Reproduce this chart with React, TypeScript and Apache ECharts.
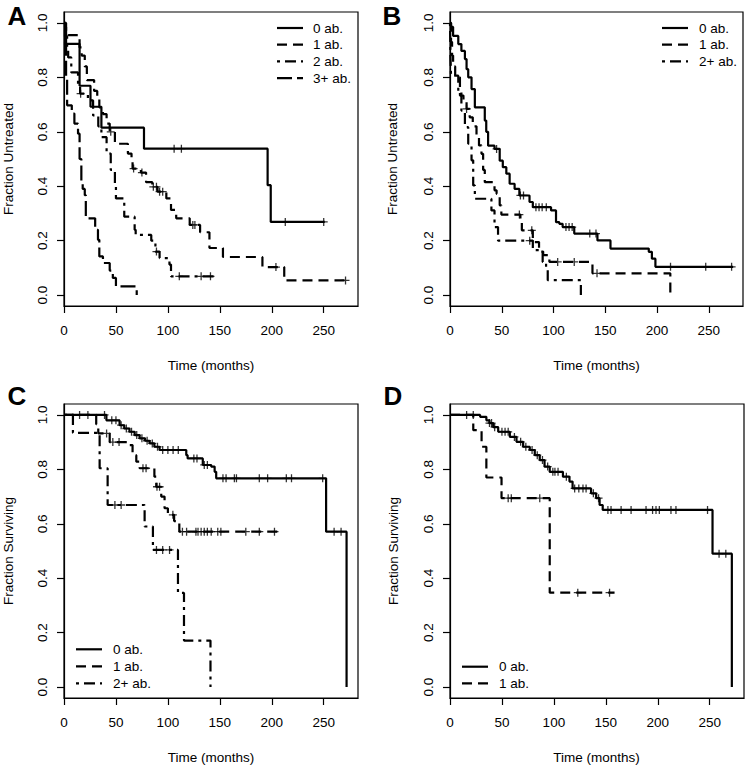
import React, { useEffect, useRef } from 'react';
import * as echarts from 'echarts';

// ---------- tick labels ----------
const xTicks = [0, 50, 100, 150, 200, 250];
const yTicks = [0, 0.2, 0.4, 0.6, 0.8, 1.0];
const xMax = 283;

// ---------- Panel A: Fraction Untreated ----------
const a0ab = [[0, 1], [2, 0.923], [15, 0.769], [25.5, 0.692], [36, 0.615], [77, 0.538], [196, 0.404], [199, 0.269], [251, 0.269]];
const a0abCens = [106, 113, 213, 250];
const a1ab = [[0, 1], [1, 0.985], [2, 0.97], [4, 0.955], [15, 0.91], [17, 0.88], [20, 0.84], [22, 0.79], [29, 0.75], [32, 0.725], [34, 0.69], [37.5, 0.665], [41, 0.63], [44, 0.6], [49, 0.556], [61.5, 0.52], [65, 0.49], [66, 0.465], [74, 0.45], [79, 0.415], [85, 0.398], [90, 0.38], [98.5, 0.355], [103, 0.313], [108, 0.282], [121, 0.258], [131, 0.231], [140, 0.173], [153, 0.14], [191, 0.103], [212, 0.054], [273, 0.054]];
const a1abCens = [45, 67, 75, 86, 89, 92, 95, 124, 126, 204, 271];
const a2ab = [[0, 1], [1, 0.95], [3, 0.9], [4, 0.873], [7, 0.818], [13.5, 0.77], [15.5, 0.74], [23, 0.715], [28, 0.66], [33, 0.62], [36, 0.58], [41, 0.52], [45, 0.46], [49, 0.4], [50, 0.355], [58, 0.288], [68, 0.24], [69, 0.221], [84, 0.2], [88, 0.16], [92, 0.136], [101.5, 0.112], [103, 0.069], [145, 0.069]];
const a2abCens = [16, 89, 111, 132, 141];
const a3ab = [[0, 1], [1, 0.92], [2, 0.8], [3, 0.697], [7.5, 0.667], [10, 0.63], [13.5, 0.593], [15, 0.5], [16.7, 0.42], [18, 0.39], [20, 0.367], [21, 0.282], [30, 0.24], [32.7, 0.203], [34, 0.142], [37.5, 0.118], [44, 0.09], [47, 0.063], [50, 0.032], [70, 0]];
const a3abCens: number[] = [];

// ---------- Panel B: Fraction Untreated ----------
const b0ab = [[0, 1], [1, 0.985], [3, 0.952], [8, 0.922], [11, 0.897], [14.4, 0.867], [16, 0.83], [17.6, 0.8], [20.8, 0.757], [24, 0.69], [33.6, 0.641], [35, 0.6], [36.8, 0.549], [43, 0.537], [48, 0.494], [51, 0.47], [54.4, 0.446], [57.6, 0.409], [62.4, 0.39], [67, 0.366], [76.8, 0.342], [80, 0.323], [97.6, 0.311], [102.4, 0.268], [105.6, 0.262], [108.8, 0.25], [120, 0.226], [142.4, 0.201], [155, 0.171], [192, 0.159], [195, 0.134], [198.4, 0.104], [273.5, 0.104]];
const b0abCens = [45, 68, 71, 83, 86, 89, 93, 112, 115, 118, 135, 141, 213, 247, 272];
const b1ab = [[0, 1], [1, 0.93], [2, 0.88], [3, 0.84], [5, 0.8], [9.6, 0.733], [13, 0.71], [16, 0.684], [19, 0.653], [22, 0.62], [25.6, 0.586], [28, 0.55], [30.4, 0.519], [32, 0.46], [33.6, 0.415], [43, 0.385], [45, 0.372], [48, 0.33], [49.6, 0.296], [68, 0.268], [69.4, 0.238], [80, 0.195], [86, 0.16], [90, 0.147], [96, 0.122], [137.6, 0.08], [212.8, 0]];
const b1abCens = [16, 67, 79, 104, 120, 142];
const b2ab = [[0, 1], [0.5, 0.87], [1, 0.806], [8, 0.745], [11, 0.678], [14.4, 0.617], [17.6, 0.556], [20.8, 0.495], [22.4, 0.403], [24, 0.354], [40, 0.311], [43, 0.25], [46.4, 0.2], [80, 0.165], [89.5, 0.122], [92.8, 0.092], [94.4, 0.055], [126.4, 0]];
const b2abCens = [77];

// ---------- Panel C: Fraction Surviving ----------
const c0ab = [[0, 1], [40.8, 0.98], [53.5, 0.962], [58, 0.95], [63, 0.938], [68, 0.926], [72.8, 0.914], [78, 0.905], [82.4, 0.895], [87, 0.883], [92, 0.871], [117.7, 0.852], [119, 0.84], [133.6, 0.816], [141.7, 0.81], [145, 0.791], [146.5, 0.767], [252.3, 0.571], [272, 0]];
const c0abCens = [15, 23, 39, 46, 50, 55, 60, 65, 70, 75, 80, 85, 90, 95, 100, 105, 110, 125, 128, 135, 138, 153, 156, 164, 166, 188, 196, 214, 219, 249, 260, 266.7];
const c1ab = [[0, 1], [31, 0.966], [33, 0.932], [44, 0.9], [61.5, 0.889], [66, 0.852], [69.6, 0.828], [72.8, 0.804], [87, 0.773], [88.8, 0.736], [93.6, 0.7], [96.8, 0.657], [100, 0.633], [106, 0.61], [111, 0.571], [206.7, 0.571]];
const c1abCens = [41, 47, 53, 76, 79, 89.5, 92, 104.8, 114, 118, 127, 129, 132, 135, 138, 141.7, 148, 151, 175, 188, 202.6];
const c2ab = [[0, 1], [8.6, 0.934], [34.3, 0.804], [42, 0.669], [77.6, 0.59], [85.6, 0.504], [109.7, 0.346], [115.5, 0.171], [141, 0]];
const c2abCens = [49, 55, 89, 95, 101.6];

// ---------- Panel D: Fraction Surviving ----------
const d0ab = [[0, 1], [29, 0.993], [35, 0.98], [38, 0.97], [41.6, 0.955], [46.4, 0.938], [57.6, 0.919], [64, 0.901], [70.4, 0.883], [76.8, 0.871], [81.6, 0.852], [86.4, 0.834], [91, 0.81], [96, 0.791], [108.7, 0.773], [115, 0.755], [118, 0.73], [135.8, 0.712], [140.7, 0.694], [144, 0.669], [147, 0.651], [252.7, 0.49], [271.3, 0]];
const d0abCens = [16, 22.4, 38, 40, 43, 50, 53, 56, 62, 68, 73, 79, 84, 89, 94, 99, 101, 104, 112, 120, 124, 128, 131, 138, 143, 152, 155, 164.7, 174.3, 188.7, 195, 198.3, 201.5, 212.7, 217.5, 247.9, 259, 265.5];
const d1ab = [[0, 1], [22.4, 0.944], [30.4, 0.883], [35, 0.77], [49.6, 0.694], [96, 0.347], [158.4, 0.347]];
const d1abCens = [56, 59, 86.4, 123, 153.6];

// ---------- styles / layout ----------
const FONT = 'Liberation Sans, Arial, Helvetica, sans-serif';
const FS = 13.5;
const DASH: Record<string, any> = {
  solid: 'solid',
  dashed: [10, 6],
  dotdash: [3, 5, 11, 5],
  longdash: [15, 5],
};
const LW = 2.2;

type Curve = { name: string; pts: number[][]; cens: number[]; dash: string };
type Panel = {
  letter: string;
  yTitle: string;
  curves: Curve[];
  grid: { left: number; top: number; width: number; height: number };
  letterPos: [number, number];
  yTitlePos: [number, number];
  xTitlePos: [number, number];
  legend: { x1: number; x2: number; tx: number; y0: number; dy: number };
};

const panels: Panel[] = [
  {
    letter: 'A',
    yTitle: 'Fraction Untreated',
    curves: [
      { name: '0 ab.', pts: a0ab, cens: a0abCens, dash: 'solid' },
      { name: '1 ab.', pts: a1ab, cens: a1abCens, dash: 'dashed' },
      { name: '2 ab.', pts: a2ab, cens: a2abCens, dash: 'dotdash' },
      { name: '3+ ab.', pts: a3ab, cens: a3abCens, dash: 'longdash' },
    ],
    grid: { left: 64, top: 12, width: 294, height: 294 },
    letterPos: [17, 16],
    yTitlePos: [8, 159],
    xTitlePos: [211, 365],
    legend: { x1: 277, x2: 303, tx: 313, y0: 28, dy: 16.7 },
  },
  {
    letter: 'B',
    yTitle: 'Fraction Untreated',
    curves: [
      { name: '0 ab.', pts: b0ab, cens: b0abCens, dash: 'solid' },
      { name: '1 ab.', pts: b1ab, cens: b1abCens, dash: 'dashed' },
      { name: '2+ ab.', pts: b2ab, cens: b2abCens, dash: 'dotdash' },
    ],
    grid: { left: 450, top: 12, width: 293, height: 294 },
    letterPos: [392, 16],
    yTitlePos: [392.5, 159],
    xTitlePos: [596.5, 365],
    legend: { x1: 662, x2: 688, tx: 699, y0: 28, dy: 16.7 },
  },
  {
    letter: 'C',
    yTitle: 'Fraction Surviving',
    curves: [
      { name: '0 ab.', pts: c0ab, cens: c0abCens, dash: 'solid' },
      { name: '1 ab.', pts: c1ab, cens: c1abCens, dash: 'dashed' },
      { name: '2+ ab.', pts: c2ab, cens: c2abCens, dash: 'dotdash' },
    ],
    grid: { left: 64, top: 404, width: 294, height: 294 },
    letterPos: [17, 396],
    yTitlePos: [8, 551],
    xTitlePos: [211, 757],
    legend: { x1: 76, x2: 102, tx: 113, y0: 649.3, dy: 17 },
  },
  {
    letter: 'D',
    yTitle: 'Fraction Surviving',
    curves: [
      { name: '0 ab.', pts: d0ab, cens: d0abCens, dash: 'solid' },
      { name: '1 ab.', pts: d1ab, cens: d1abCens, dash: 'dashed' },
    ],
    grid: { left: 450, top: 404, width: 294, height: 294 },
    letterPos: [393, 396],
    yTitlePos: [393, 551],
    xTitlePos: [596.5, 757],
    legend: { x1: 462, x2: 488, tx: 499, y0: 666.7, dy: 16.7 },
  },
];

const PLUS = 'path://M-0.16,-1H0.16V-0.16H1V0.16H0.16V1H-0.16V0.16H-1V-0.16H-0.16Z';

function levelAt(pts: number[][], t: number): number {
  let v = pts[0][1];
  for (const p of pts) {
    if (p[0] <= t) v = p[1];
    else break;
  }
  return v;
}

function buildOption() {
  const grid: any[] = [];
  const xAxis: any[] = [];
  const yAxis: any[] = [];
  const series: any[] = [];
  const graphic: any[] = [];

  panels.forEach((p, i) => {
    grid.push({
      ...p.grid,
      show: true,
      borderColor: '#000',
      borderWidth: 1.2,
      backgroundColor: 'transparent',
      containLabel: false,
      outerBoundsMode: 'none',
    });
    xAxis.push({
      type: 'value',
      gridIndex: i,
      min: 0,
      max: xMax,
      axisLine: { show: true, onZero: false, lineStyle: { color: '#000', width: 1.2 } },
      axisTick: { show: true, length: 7, lineStyle: { color: '#000', width: 1.2 }, customValues: xTicks },
      axisLabel: {
        customValues: xTicks,
        margin: 17,
        fontSize: FS,
        color: '#000',
        fontFamily: FONT,
      },
      splitLine: { show: false },
    });
    yAxis.push({
      type: 'value',
      gridIndex: i,
      min: -0.04,
      max: 1.04,
      axisLine: { show: true, onZero: false, lineStyle: { color: '#000', width: 1.2 } },
      axisTick: { show: true, length: 7, lineStyle: { color: '#000', width: 1.2 }, customValues: yTicks },
      axisLabel: {
        customValues: yTicks,
        rotate: 90,
        margin: 15,
        fontSize: FS,
        color: '#000',
        fontFamily: FONT,
        formatter: (v: number) => v.toFixed(1),
      },
      splitLine: { show: false },
    });

    p.curves.forEach((c) => {
      series.push({
        type: 'line',
        name: p.letter + ' ' + c.name,
        xAxisIndex: i,
        yAxisIndex: i,
        step: 'end',
        data: c.pts,
        showSymbol: false,
        symbol: 'none',
        lineStyle: { color: '#000', width: LW, type: DASH[c.dash], cap: 'butt' },
        z: 3,
      });
      if (c.cens.length) {
        series.push({
          type: 'scatter',
          name: p.letter + ' ' + c.name + ' censored',
          xAxisIndex: i,
          yAxisIndex: i,
          data: c.cens.map((t) => [t, levelAt(c.pts, t)]),
          symbol: PLUS,
          symbolSize: 8,
          itemStyle: { color: '#000' },
          z: 4,
        });
      }
    });

    graphic.push({
      type: 'text',
      x: p.letterPos[0],
      y: p.letterPos[1],
      style: {
        text: p.letter,
        fill: '#000',
        font: `bold 26px ${FONT}`,
        align: 'center',
        verticalAlign: 'middle',
      },
    });
    graphic.push({
      type: 'text',
      x: p.yTitlePos[0],
      y: p.yTitlePos[1],
      rotation: Math.PI / 2,
      style: {
        text: p.yTitle,
        fill: '#000',
        font: `${FS}px ${FONT}`,
        align: 'center',
        verticalAlign: 'middle',
      },
    });
    graphic.push({
      type: 'text',
      x: p.xTitlePos[0],
      y: p.xTitlePos[1],
      style: {
        text: 'Time (months)',
        fill: '#000',
        font: `${FS}px ${FONT}`,
        align: 'center',
        verticalAlign: 'middle',
      },
    });
    p.curves.forEach((c, k) => {
      const y = p.legend.y0 + k * p.legend.dy;
      graphic.push({
        type: 'line',
        shape: { x1: p.legend.x1, y1: y, x2: p.legend.x2, y2: y },
        style: {
          stroke: '#000',
          lineWidth: LW,
          lineDash: c.dash === 'solid' ? null : DASH[c.dash],
        },
      });
      graphic.push({
        type: 'text',
        x: p.legend.tx,
        y,
        style: {
          text: c.name,
          fill: '#000',
          font: `${FS}px ${FONT}`,
          align: 'left',
          verticalAlign: 'middle',
        },
      });
    });
  });

  return {
    animation: false,
    backgroundColor: '#fff',
    textStyle: { fontFamily: FONT },
    grid,
    xAxis,
    yAxis,
    series,
    graphic,
  };
}

export default function App() {
  const ref = useRef<HTMLDivElement>(null);
  useEffect(() => {
    document.body.style.margin = '0';
    if (!ref.current) return;
    const chart = echarts.init(ref.current, undefined, { renderer: 'svg' });
    chart.setOption(buildOption() as any);
    return () => {
      chart.dispose();
    };
  }, []);
  return <div ref={ref} style={{ width: 747, height: 766 }} />;
}
